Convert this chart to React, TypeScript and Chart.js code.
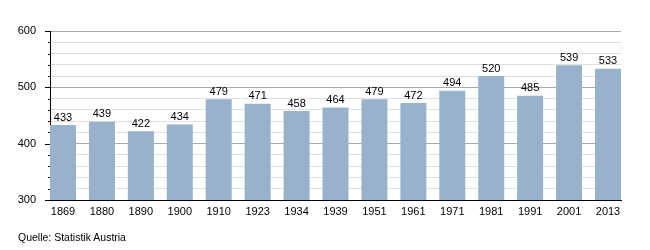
import React, { useEffect, useRef } from "react";
import { Chart, registerables } from "chart.js";
Chart.register(...registerables);

const years = ["1869","1880","1890","1900","1910","1923","1934","1939","1951","1961","1971","1981","1991","2001","2013"];
const values = [433,439,422,434,479,471,458,464,479,472,494,520,485,539,533];
const yTickValues = [300, 320, 340, 360, 380, 400, 420, 440, 460, 480, 500, 520, 540, 560, 580, 600];
const source = "Quelle: Statistik Austria";

const FONT = "'Liberation Sans', Arial, sans-serif";

const labelPlugin = {
  id: "valueLabels",
  afterDatasetsDraw(chart: any) {
    const ctx = chart.ctx;
    const meta = chart.getDatasetMeta(0);
    ctx.save();
    ctx.font = `11px ${FONT}`;
    ctx.fillStyle = "#000";
    ctx.textAlign = "center";
    ctx.textBaseline = "bottom";
    meta.data.forEach((bar: any, i: number) => {
      ctx.fillText(String(values[i]), bar.x, bar.y - 2);
    });
    ctx.restore();
  },
};

const tickMarkPlugin = {
  id: "yTickMarks",
  afterDraw(chart: any) {
    const ctx = chart.ctx;
    const y = chart.scales.y;
    const left = chart.chartArea.left;
    ctx.save();
    ctx.strokeStyle = "#000";
    ctx.lineWidth = 1;
    yTickValues.forEach((v) => {
      const py = Math.round(y.getPixelForValue(v)) + 0.5;
      const len = v % 100 === 0 ? 5 : 2;
      ctx.beginPath();
      ctx.moveTo(left - len, py);
      ctx.lineTo(left, py);
      ctx.stroke();
    });
    ctx.restore();
  },
};

export default function App() {
  const ref = useRef<HTMLCanvasElement>(null);
  useEffect(() => {
    const chart = new Chart(ref.current!, {
      type: "bar",
      data: {
        datasets: [{
          data: values.map((v, i) => ({ x: i, y: v })),
          backgroundColor: "#98b2cc",
          barPercentage: 0.668,
          categoryPercentage: 1,
        }],
      },
      options: {
        animation: false,
        responsive: false,
        layout: { padding: { top: 31, right: 29, left: 0, bottom: 0 } },
        plugins: { legend: { display: false }, tooltip: { enabled: false } },
        scales: {
          x: {
            type: "linear",
            offset: false,
            min: -0.334,
            max: 14.334,
            grid: { display: false, drawTicks: false, offset: false },
            border: { display: true, color: "#000", width: 1 },
            ticks: {
              color: "#000",
              font: { family: FONT, size: 11 },
              padding: 5,
              maxRotation: 0,
              autoSkip: false,
              callback: (v: any) => years[v] ?? "",
            },
            afterBuildTicks: (s: any) => { s.ticks = years.map((_, i) => ({ value: i })); },
            afterFit: (s: any) => { s.height = 50; },
          },
          y: {
            min: 300,
            max: 600,
            ticks: {
              stepSize: 20,
              autoSkip: false,
              color: "#000",
              font: { family: FONT, size: 11 },
              padding: 14,
              callback: (v: any) => (v % 100 === 0 ? String(v) : ""),
            },
            afterBuildTicks: (s: any) => { s.ticks = yTickValues.map((v) => ({ value: v })); },
            grid: {
              color: (c: any) => (c.tick && c.tick.value % 100 === 0 ? "#aaaaaa" : "#e0e0e0"),
              drawTicks: false,
            },
            border: { display: true, color: "#000", width: 1 },
            afterFit: (s: any) => { s.width = 50; },
          },
        },
      },
      plugins: [labelPlugin, tickMarkPlugin],
    });
    return () => chart.destroy();
  }, []);
  return (
    <div style={{ position: "absolute", left: 0, top: 0, width: 650, height: 250, background: "#fff" }}>
      <canvas ref={ref} width={650} height={250} style={{ display: "block" }} />
      <div style={{ position: "absolute", left: 18, top: 231, font: `10.5px ${FONT}`, color: "#000", whiteSpace: "nowrap" }}>{source}</div>
    </div>
  );
}
